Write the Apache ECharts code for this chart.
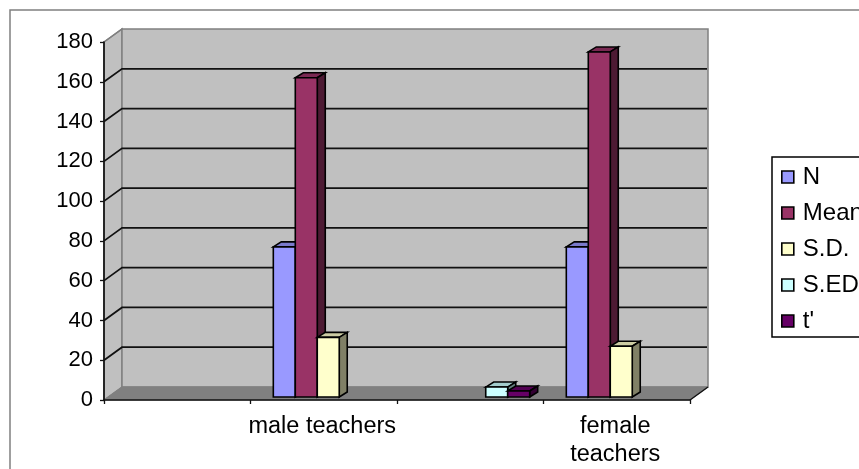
<!DOCTYPE html>
<html><head><meta charset="utf-8">
<style>html,body{margin:0;padding:0;background:#fff}#c{width:859px;height:469px}</style>
<script src="https://cdn.jsdelivr.net/npm/echarts@6/dist/echarts.min.js"></script>
</head><body><div id="c"></div>
<script>
var categories = ['', 'male teachers', '', 'female\nteachers'];
var yTicks = [20, 40, 60, 80, 100, 120, 140, 160];
var seriesNames = ['N', 'Mean', 'S.D.', 'S.ED', "t'"];
var valuesN = [null, 75.5, null, 75.5];
var valuesMean = [null, 160.5, null, 173.5];
var valuesSD = [null, 30, null, 25.5];
var valuesSED = [null, null, 5, null];
var valuesT = [null, null, 3, null];
var colorsFront = ['#9999FF', '#993366', '#FFFFCC', '#CCFFFF', '#660066'];
var colorsTop = ['#7A7ACC', '#7A2952', '#CCCCA3', '#A3CCCC', '#520052'];
var colorsSide = ['#4D4D80', '#4D1A33', '#808066', '#668080', '#330033'];
var allValues = [valuesN, valuesMean, valuesSD, valuesSED, valuesT];

var DX = 18, DY = 13;       // wall depth
var BDX = 8, BDY = 5;       // bar depth
var OX = 4.5, OY = 3;       // bar inset on the floor
var FONT = '"Liberation Sans", Arial, sans-serif';

function tuples(arr) {
  return arr.map(function (v, i) { return [i, v === null ? '-' : v]; });
}

function renderFrame(params, api) {
  var cs = params.coordSys;
  var left = cs.x, right = cs.x + cs.width, top = cs.y, bottom = cs.y + cs.height;
  var kids = [];
  kids.push({ type: 'polygon', shape: { points: [[left, top], [left + DX, top - DY], [left + DX, bottom - DY], [left, bottom]] },
    style: { fill: '#C0C0C0', stroke: '#808080', lineWidth: 1.5 } });
  kids.push({ type: 'rect', shape: { x: left + DX, y: top - DY, width: cs.width, height: cs.height },
    style: { fill: '#C0C0C0', stroke: '#808080', lineWidth: 1.5 } });
  kids.push({ type: 'polygon', shape: { points: [[left, bottom], [left + DX, bottom - DY], [right + DX, bottom - DY], [right, bottom]] },
    style: { fill: '#808080', stroke: '#808080', lineWidth: 1 } });
  yTicks.forEach(function (t) {
    var y = api.coord([0, t])[1];
    kids.push({ type: 'polyline', shape: { points: [[left, y], [left + DX, y - DY], [right + DX - 1, y - DY]] },
      style: { fill: null, stroke: '#111', lineWidth: 1.7 } });
  });
  kids.push({ type: 'line', shape: { x1: left, y1: top, x2: left + DX, y2: top - DY }, style: { stroke: '#808080', lineWidth: 1.5 } });
  kids.push({ type: 'line', shape: { x1: right, y1: bottom, x2: right + DX, y2: bottom - DY }, style: { stroke: '#111', lineWidth: 1.4 } });
  return { type: 'group', children: kids };
}

function makeBarRenderer(si) {
  return function (params, api) {
    var v = api.value(1);
    if (isNaN(v)) return null;
    var c = api.coord([api.value(0), v]);
    var base = api.coord([api.value(0), 0]);
    var band = api.size([1, 0])[0];
    var w = band * 0.15;
    var x0 = c[0] + (si - 2.5) * w + OX;
    var x1 = x0 + w;
    var yT = c[1] - OY, yB = base[1] - OY;
    var edge = { stroke: '#000', lineWidth: 1.6, lineJoin: 'miter' };
    return { type: 'group', children: [
      { type: 'polygon', shape: { points: [[x0, yT], [x0 + BDX, yT - BDY], [x1 + BDX, yT - BDY], [x1, yT]] },
        style: Object.assign({ fill: colorsTop[si] }, edge) },
      { type: 'polygon', shape: { points: [[x1, yT], [x1 + BDX, yT - BDY], [x1 + BDX, yB - BDY], [x1, yB]] },
        style: Object.assign({ fill: colorsSide[si] }, edge) },
      { type: 'rect', shape: { x: x0, y: yT, width: w, height: yB - yT },
        style: Object.assign({ fill: colorsFront[si] }, edge) }
    ] };
  };
}

var series = [{
  type: 'custom', name: 'frame', z: 1, silent: true, clip: false,
  data: [[0, 0]], renderItem: renderFrame, tooltip: { show: false }
}];
seriesNames.forEach(function (n, i) {
  series.push({
    type: 'custom', name: n, z: 4, clip: false,
    itemStyle: { color: colorsFront[i] },
    encode: { x: 0, y: 1 },
    data: tuples(allValues[i]),
    renderItem: makeBarRenderer(i)
  });
});

var chart = echarts.init(document.getElementById('c'), null, { renderer: 'canvas' });
chart.setOption({
  animation: false,
  backgroundColor: '#fff',
  grid: { left: 104, top: 42, width: 586, height: 358, containLabel: false },
  graphic: [{ type: 'rect', z: 0, shape: { x: 10, y: 10, width: 900, height: 500 },
    style: { fill: null, stroke: '#808080', lineWidth: 1.5 } }],
  legend: {
    orient: 'vertical', left: 772, top: 157,
    data: seriesNames, selectedMode: false,
    icon: 'rect', itemWidth: 12, itemHeight: 12, itemGap: 12,
    padding: [8, 10, 4, 9],
    borderColor: '#000', borderWidth: 1.5, backgroundColor: '#fff',
    itemStyle: { borderColor: '#000', borderWidth: 1.6 },
    textStyle: { fontFamily: FONT, fontSize: 24, color: '#000', lineHeight: 24, padding: [0, 0, 0, 4] }
  },
  xAxis: {
    type: 'category', data: categories, z: 3,
    axisLine: { lineStyle: { color: '#111', width: 1.7 } },
    axisTick: { show: true, alignWithLabel: false, length: 4, interval: 0, lineStyle: { color: '#111', width: 1.3 } },
    axisLabel: { interval: 0, fontFamily: FONT, fontSize: 23.5, color: '#000', margin: 13, lineHeight: 28, padding: [0, 3, 0, 0] },
    splitLine: { show: false }
  },
  yAxis: {
    type: 'value', min: 0, max: 180, interval: 20, z: 3,
    axisLine: { show: true, lineStyle: { color: '#111', width: 1.7 } },
    axisTick: { show: true, length: 4, lineStyle: { color: '#111', width: 1.3 } },
    axisLabel: { fontFamily: FONT, fontSize: 22, color: '#000', margin: 11 },
    splitLine: { show: false }
  },
  series: series
});
</script></body></html>
